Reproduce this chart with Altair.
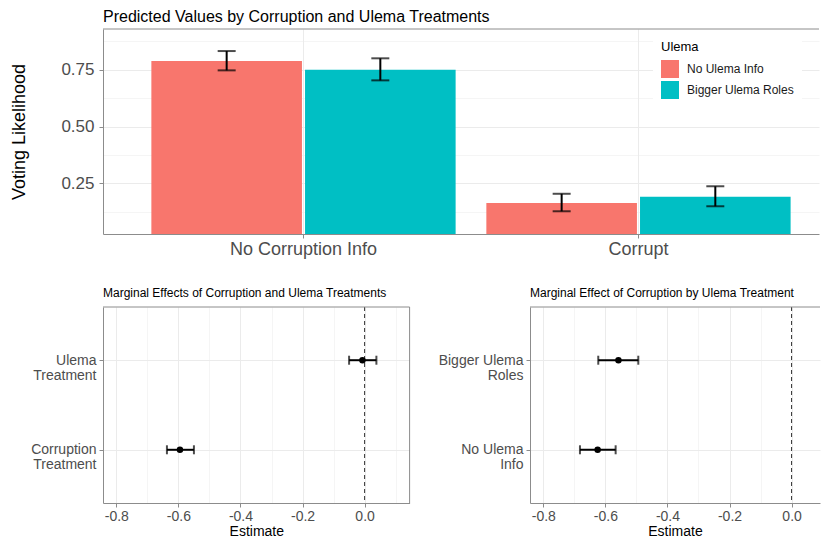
import altair as alt
import pandas as pd

# ---------------- data ----------------
# Top panel: predicted values
conditions = ["No Corruption Info", "No Corruption Info", "Corrupt", "Corrupt"]
ulema_groups = ["No Ulema Info", "Bigger Ulema Roles", "No Ulema Info", "Bigger Ulema Roles"]
predicted = [0.788, 0.750, 0.163, 0.191]
pred_low = [0.747, 0.703, 0.127, 0.149]
pred_high = [0.832, 0.800, 0.204, 0.237]

condition_order = ["No Corruption Info", "Corrupt"]
ulema_order = ["No Ulema Info", "Bigger Ulema Roles"]
ulema_colors = ["#F8766D", "#00BFC4"]

# Bottom-left: marginal effects of treatments
terms = ["Ulema Treatment", "Corruption Treatment"]
term_est = [-0.007, -0.595]
term_low = [-0.050, -0.637]
term_high = [0.038, -0.550]

# Bottom-right: marginal effect of corruption by ulema treatment
ulema_terms = ["Bigger Ulema Roles", "No Ulema Info"]
ulema_est = [-0.558, -0.625]
ulema_low = [-0.623, -0.682]
ulema_high = [-0.494, -0.567]

# axis ticks (major + minor grid positions)
y_ticks = [0.125, 0.25, 0.375, 0.5, 0.625, 0.75, 0.875]
x_ticks = [-0.8, -0.7, -0.6, -0.5, -0.4, -0.3, -0.2, -0.1, 0.0, 0.1]

# ---------------- style ----------------
FONT = "Liberation Sans"
BORDER = "#8c8c8c"
GRID = "#EBEBEB"

top_df = pd.DataFrame({
    "condition": conditions, "ulema": ulema_groups,
    "pred": predicted, "low": pred_low, "high": pred_high,
})
bl_df = pd.DataFrame({"term": terms, "est": term_est, "low": term_low, "high": term_high})
br_df = pd.DataFrame({"term": ulema_terms, "est": ulema_est, "low": ulema_low, "high": ulema_high})

one_row = alt.Data(values=[{}])


def border(x, x2, y, y2=None):
    enc = dict(x=alt.value(x), y=alt.value(y))
    if x2 is not None:
        enc["x2"] = alt.value(x2)
    if y2 is not None:
        enc["y2"] = alt.value(y2)
    return alt.Chart(one_row).mark_rule(color=BORDER, strokeWidth=1).encode(**enc)


# ---------------- top panel ----------------
TW, TH = 716, 205

x_top = alt.X(
    "condition:N", sort=condition_order, title=None,
    scale=alt.Scale(paddingInner=0, paddingOuter=0.0687, align=0.717),
    axis=alt.Axis(labelAngle=0, labelFontSize=18, labelPadding=2, bandPosition=0.5,
                  grid=True, gridColor=GRID, gridWidth=1),
)
xoff_top = alt.XOffset(
    "ulema:N", sort=ulema_order,
    scale=alt.Scale(paddingInner=0.02, paddingOuter=0.1),
)
y_scale_top = alt.Scale(domain=[0.027, 0.929], nice=False, zero=False)
minor_y = "round(datum.value * 8) % 2 !== 0"
y_axis_top = alt.Axis(
    values=y_ticks, labelOverlap=False,
    labelExpr="round(datum.value * 8) % 2 === 0 ? format(datum.value, '.2f') : ''",
    tickOpacity={"condition": {"test": minor_y, "value": 0}, "value": 1},
    gridWidth={"condition": {"test": minor_y, "value": 0.5}, "value": 1},
    labelFontSize=17, labelPadding=5, titleFontSize=18, titlePadding=32,
)
y_top = alt.Y("pred:Q", scale=y_scale_top, title="Voting Likelihood", axis=y_axis_top)

base_top = alt.Chart(top_df)
bars = base_top.mark_bar(clip=True).encode(
    x=x_top, xOffset=xoff_top, y=y_top,
    color=alt.Color(
        "ulema:N", sort=ulema_order,
        scale=alt.Scale(domain=ulema_order, range=ulema_colors),
        legend=alt.Legend(
            title="Ulema", orient="none", legendX=550, legendY=4,
            fillColor="white", padding=8, symbolType="square", symbolSize=324,
            symbolStrokeWidth=0, symbolOpacity=1, rowPadding=3, labelOffset=8,
            titleFontSize=13, labelFontSize=12, titlePadding=6,
            titleFontWeight="normal", titleColor="#000", labelColor="#1a1a1a",
            titleFont=FONT, labelFont=FONT,
        ),
    ),
)
err_line = base_top.mark_rule(color="black", strokeWidth=2).encode(
    x=x_top, xOffset=xoff_top,
    y=alt.Y("low:Q", scale=y_scale_top, title="Voting Likelihood", axis=y_axis_top), y2="high:Q")
err_cap_hi = base_top.mark_tick(color="black", size=18, thickness=2).encode(
    x=x_top, xOffset=xoff_top,
    y=alt.Y("high:Q", scale=y_scale_top, title="Voting Likelihood", axis=y_axis_top))
err_cap_lo = base_top.mark_tick(color="black", size=18, thickness=2).encode(
    x=x_top, xOffset=xoff_top,
    y=alt.Y("low:Q", scale=y_scale_top, title="Voting Likelihood", axis=y_axis_top))

top = alt.layer(bars, err_line, err_cap_hi, err_cap_lo, border(0, TW, 0)).properties(
    width=TW, height=TH,
    title=alt.Title("Predicted Values by Corruption and Ulema Treatments",
                    fontSize=16, offset=3.7, anchor="start", frame="group"),
)

# ---------------- bottom panels ----------------
BH = 196
split_expr = ("[substring(datum.label, 0, lastindexof(datum.label, ' ')), "
              "substring(datum.label, lastindexof(datum.label, ' ') + 1)]")
x_label_expr = ("round(datum.value * 10) % 2 === 0 ? "
                "(datum.value < -0.001 ? '-' : '') + format(abs(datum.value), '.1f') : ''")
minor_x = "round(datum.value * 10) % 2 !== 0"


def coef_panel(df, order, title, width, domain, right_border):
    xs = alt.Scale(domain=domain, nice=False, zero=False)
    x_axis = alt.Axis(
        values=x_ticks, labelExpr=x_label_expr, labelOverlap=False,
        tickOpacity={"condition": {"test": minor_x, "value": 0}, "value": 1},
        gridWidth={"condition": {"test": minor_x, "value": 0.5}, "value": 1},
        labelFontSize=14, labelPadding=2, titleFontSize=14, titlePadding=1,
    )
    y = alt.Y("term:N", sort=order, title=None,
              scale=alt.Scale(type="point", padding=0.594),
              axis=alt.Axis(labelExpr=split_expr, labelFontSize=14, labelLineHeight=15,
                            labelPadding=3, grid=True, gridColor=GRID,
                            minExtent=93.7, maxExtent=93.7))
    base = alt.Chart(df)
    line = base.mark_rule(color="black", strokeWidth=2).encode(
        x=alt.X("low:Q", scale=xs, title="Estimate", axis=x_axis), x2="high:Q", y=y)
    zero_line = alt.Chart(one_row).mark_rule(
        color="#333333", strokeDash=[4, 3], strokeWidth=1).encode(
        x=alt.X(datum=0, scale=xs, title="Estimate", axis=x_axis))
    cap_lo = base.mark_tick(color="black", size=9, thickness=2).encode(
        x=alt.X("low:Q", scale=xs, title="Estimate", axis=x_axis), y=y)
    cap_hi = base.mark_tick(color="black", size=9, thickness=2).encode(
        x=alt.X("high:Q", scale=xs, title="Estimate", axis=x_axis), y=y)
    pts = base.mark_point(filled=True, color="black", size=42, opacity=1).encode(
        x=alt.X("est:Q", scale=xs, title="Estimate", axis=x_axis), y=y)
    layers = [line, zero_line, cap_lo, cap_hi, pts, border(0, width, 0)]
    if right_border:
        layers.append(border(width, None, 0, BH))
    return alt.layer(*layers).properties(
        width=width, height=BH,
        title=alt.Title(title, fontSize=12, offset=7, anchor="start", frame="group"),
    )


bl = coef_panel(bl_df, terms, "Marginal Effects of Corruption and Ulema Treatments",
                306.6, [-0.843, 0.145], True)
br = coef_panel(br_df, ulema_terms, "Marginal Effect of Corruption by Ulema Treatment",
                290, [-0.843, 0.0916], False)

bottom = alt.hconcat(bl, br, spacing=24)

chart = alt.ConcatChart(concat=[top, bottom], columns=1, align="none", spacing=27).resolve_scale(
    color="independent"
).properties(
    padding={"top": 0, "left": 0, "right": 0, "bottom": 0}
).configure_view(
    stroke="transparent",
).configure_axis(
    domainColor=BORDER, domainWidth=1, tickColor=BORDER, tickSize=4, tickWidth=1,
    gridColor=GRID, labelFont=FONT, titleFont=FONT, labelColor="#4D4D4D",
    titleColor="#000000", titleFontWeight="normal",
).configure_title(
    font=FONT, fontWeight="normal", color="#000000",
)

chart.save("out.html", embed_options={"renderer": "svg", "actions": False})
